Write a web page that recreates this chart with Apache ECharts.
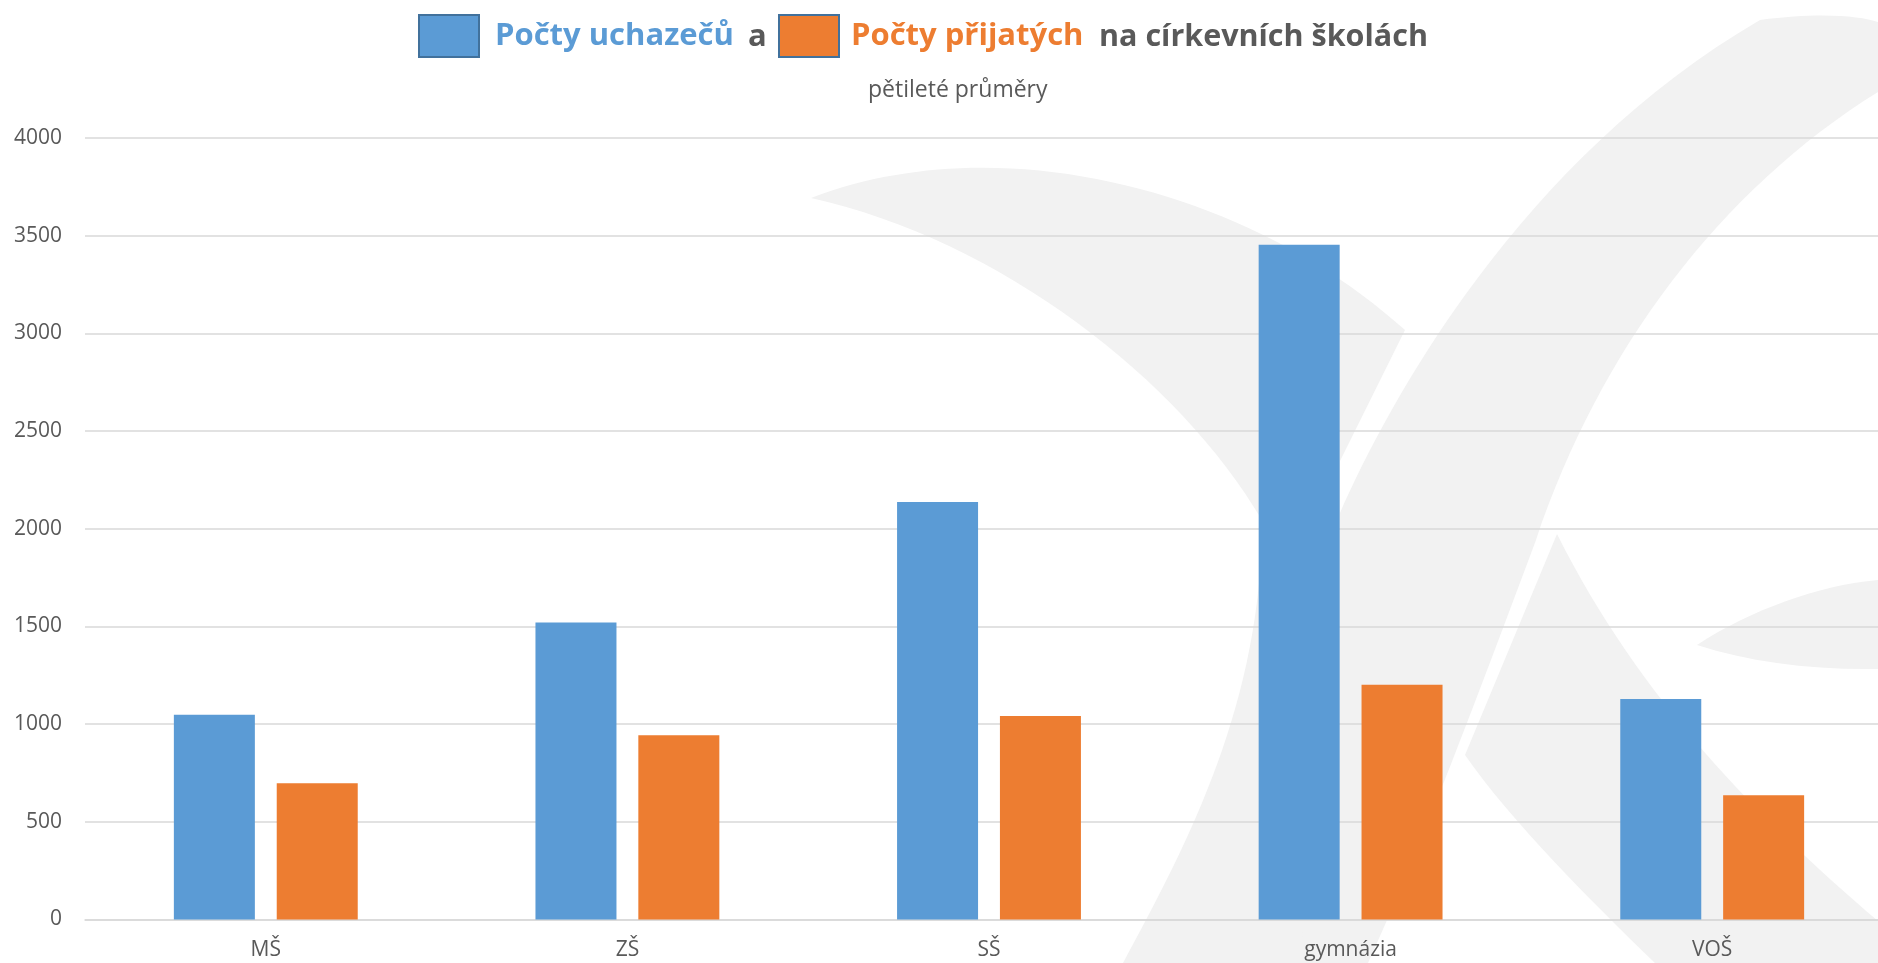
<!DOCTYPE html>
<html>
<head>
<meta charset="utf-8">
<script src="https://cdn.jsdelivr.net/npm/echarts@6/dist/echarts.min.js"></script>
<style>
html,body{margin:0;padding:0;background:#fff;}
#chart{width:1878px;height:963px;}
</style>
</head>
<body>
<div id="chart"></div>
<script>
// ---- data ----
const categories = ['MŠ', 'ZŠ', 'SŠ', 'gymnázia', 'VOŠ'];
const seriesNames = ['Počty uchazečů', 'Počty přijatých'];
const applicants = [1048, 1520, 2137, 3454, 1128];
const admitted = [698, 943, 1041, 1201, 636];
const titleConnector = 'a';
const titleRest = 'na církevních školách';
const subtitleText = 'pětileté průměry';
const yTicks = [0, 500, 1000, 1500, 2000, 2500, 3000, 3500, 4000];

const BLUE = '#5B9BD5', ORANGE = '#ED7D31', GRAY = '#595959', WM = '#F2F2F2';
const FONT = '"Open Sans", "Noto Sans", sans-serif';

// decorative watermark logo (background)
const watermark = [
  'M 811 198 C 1000 125, 1250 190, 1405 330 L 1340 461 L 1340 700 L 1345 963 L 1123 963 C 1190 840, 1262 700, 1262 520 C 1180 380, 1000 240, 811 198 Z',
  'M 1760 20 C 1820 12, 1860 16, 1878 22 L 1878 92 C 1720 190, 1600 350, 1536 540 C 1480 690, 1420 850, 1368 963 L 1300 963 L 1340 513 C 1390 400, 1520 160, 1760 20 Z',
  'M 1557 534 L 1465 755 C 1510 820, 1590 900, 1655 963 L 1878 963 L 1878 921 C 1760 820, 1640 700, 1557 534 Z',
  'M 1697 645 C 1750 610, 1820 585, 1878 580 L 1878 669 C 1810 670, 1750 662, 1697 645 Z'
];

const chart = echarts.init(document.getElementById('chart'), null, {renderer: 'canvas'});

const legendBase = {
  orient: 'horizontal',
  top: 9,
  itemWidth: 60,
  itemHeight: 42,
  selectedMode: false,
  icon: 'rect',
  itemStyle: {borderColor: '#41719C', borderWidth: 2},
};

chart.setOption({
  backgroundColor: '#fff',
  animation: false,
  title: [
    {text: titleConnector, left: 743, top: 17,
     textStyle: {color: GRAY, fontSize: 31, fontWeight: 'bold', fontFamily: FONT}},
    {text: titleRest, left: 1094, top: 17,
     textStyle: {color: GRAY, fontSize: 30.5, fontWeight: 'bold', fontFamily: FONT}},
    {text: subtitleText, left: 863, top: 74,
     textStyle: {color: GRAY, fontSize: 23, fontWeight: 'normal', fontFamily: FONT}}
  ],
  legend: [
    Object.assign({}, legendBase, {
      left: 413, data: [seriesNames[0]],
      textStyle: {color: BLUE, fontSize: 31, fontWeight: 'bold', fontFamily: FONT, padding: [7, 0, 0, 11]}
    }),
    Object.assign({}, legendBase, {
      left: 773, data: [seriesNames[1]],
      textStyle: {color: ORANGE, fontSize: 31, fontWeight: 'bold', fontFamily: FONT, padding: [7, 0, 0, 7]}
    })
  ],
  grid: {left: 85, top: 138, right: -15, bottom: 43.5, containLabel: false, outerBoundsMode: 'none'},
  xAxis: {
    type: 'category',
    data: categories,
    axisLine: {show: true, lineStyle: {color: '#D9D9D9', width: 1.5}},
    axisTick: {show: false},
    axisLabel: {color: GRAY, fontSize: 21, fontFamily: FONT, margin: 20}
  },
  yAxis: {
    type: 'value',
    min: yTicks[0],
    max: yTicks[yTicks.length - 1],
    interval: yTicks[1] - yTicks[0],
    axisLine: {show: false},
    axisTick: {show: false},
    axisLabel: {color: GRAY, fontSize: 21, fontFamily: FONT, margin: 23,
                formatter: v => String(v)},
    splitLine: {lineStyle: {color: '#D9D9D9', width: 1.5}}
  },
  series: [
    {
      name: 'watermark', type: 'custom', coordinateSystem: 'none',
      silent: true, z: -1, legendHoverLink: false,
      data: watermark.map((p, i) => i),
      renderItem: function (params) {
        return {
          type: 'path',
          shape: {pathData: watermark[params.dataIndex]},
          style: {fill: WM}
        };
      }
    },
    {
      name: seriesNames[0], type: 'bar', data: applicants,
      barWidth: 81, barGap: '27%',
      itemStyle: {color: BLUE}
    },
    {
      name: seriesNames[1], type: 'bar', data: admitted,
      barWidth: 81, barGap: '27%',
      itemStyle: {color: ORANGE}
    }
  ]
});
</script>
</body>
</html>
